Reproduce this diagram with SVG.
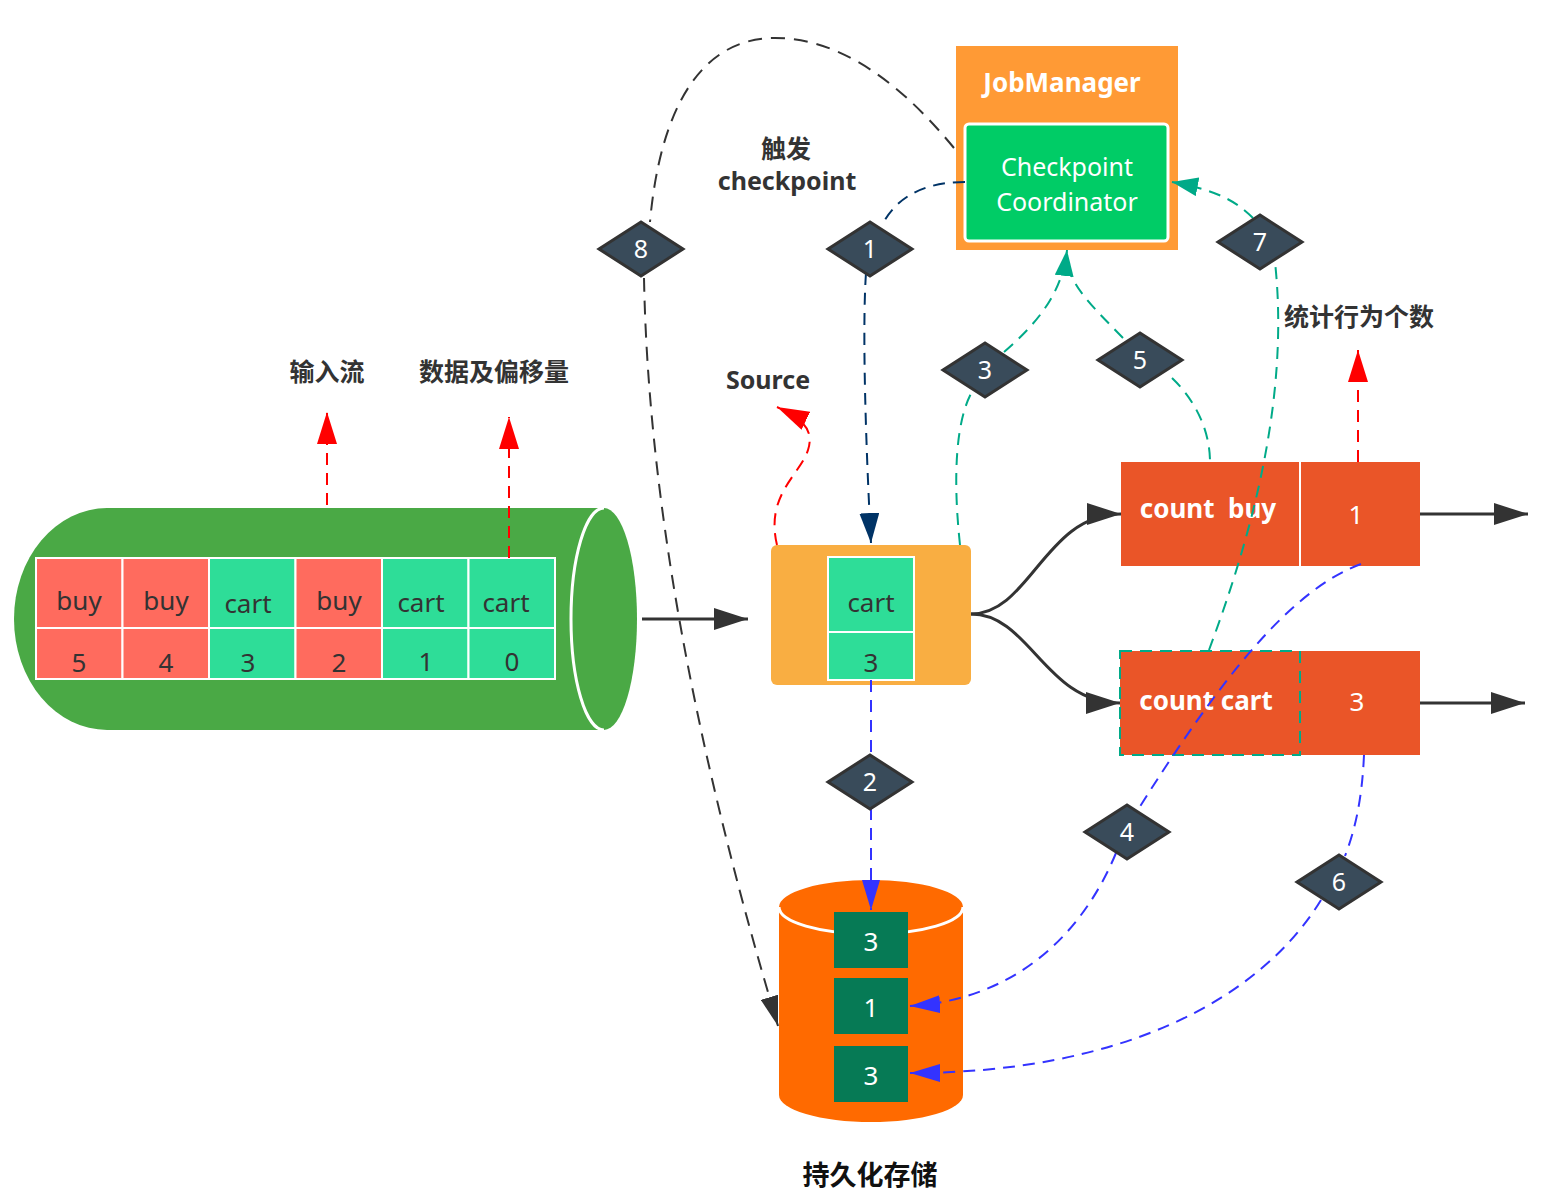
<svg xmlns="http://www.w3.org/2000/svg" width="1562" height="1202" viewBox="0 0 1562 1202">
<style>
text{font-family:"Noto Sans","Noto Sans CJK SC",sans-serif;text-anchor:middle}
.lbl{font-weight:bold;font-size:25px;fill:#333}
.cell{font-size:26px;fill:#333}
.red{fill:#FF6B5E;stroke:#fff;stroke-width:2}
.grn{fill:#2EDD98;stroke:#fff;stroke-width:2}
.dia{fill:#394B5A;stroke:#333;stroke-width:3}
.dnum{font-size:25px;fill:#fff}
.dash{fill:none;stroke-width:2;stroke-dasharray:12 8}
.solid{fill:none;stroke:#333;stroke-width:3}
.rdash{fill:none;stroke:#FF0000;stroke-width:2;stroke-dasharray:12 8}
.dbc{fill:#067A55}
</style>
<defs>
<marker id="mBlk" markerUnits="userSpaceOnUse" markerWidth="34" markerHeight="22" refX="34" refY="11" orient="auto"><path d="M0,0 L34,11 L0,22 Z" fill="#333"/></marker>
<marker id="mBlkD" markerUnits="userSpaceOnUse" markerWidth="30" markerHeight="18" refX="30" refY="9" orient="auto"><path d="M0,0 L30,9 L0,18 Z" fill="#333"/></marker>
<marker id="mNavy" markerUnits="userSpaceOnUse" markerWidth="30" markerHeight="20" refX="30" refY="10" orient="auto"><path d="M0,0 L30,10 L0,20 Z" fill="#003366"/></marker>
<marker id="mTeal" markerUnits="userSpaceOnUse" markerWidth="26" markerHeight="19" refX="26" refY="9.5" orient="auto"><path d="M0,0 L26,9.5 L0,19 Z" fill="#00AA88"/></marker>
<marker id="mBlue" markerUnits="userSpaceOnUse" markerWidth="30" markerHeight="18" refX="30" refY="9" orient="auto"><path d="M0,0 L30,9 L0,18 Z" fill="#3333FF"/></marker>
<marker id="mRed" markerUnits="userSpaceOnUse" markerWidth="32" markerHeight="20" refX="32" refY="10" orient="auto"><path d="M0,0 L32,10 L0,20 Z" fill="#FF0000"/></marker>
</defs>

<g id="input-stream">
<path d="M107,508 L604,508 A33,111 0 0 1 604,730 L107,730 A93,111 0 0 1 107,508 Z" fill="#4AA945"/>
<path d="M604,508 A33,111 0 0 0 604,730" fill="none" stroke="#fff" stroke-width="3"/>
<rect class="red" x="36" y="558" width="86.5" height="70"/>
<rect class="red" x="122.5" y="558" width="86.5" height="70"/>
<rect class="grn" x="209" y="558" width="86.5" height="70"/>
<rect class="red" x="295.5" y="558" width="86.5" height="70"/>
<rect class="grn" x="382" y="558" width="86.5" height="70"/>
<rect class="grn" x="468.5" y="558" width="86.5" height="70"/>
<rect class="red" x="36" y="628" width="86.5" height="51"/>
<rect class="red" x="122.5" y="628" width="86.5" height="51"/>
<rect class="grn" x="209" y="628" width="86.5" height="51"/>
<rect class="red" x="295.5" y="628" width="86.5" height="51"/>
<rect class="grn" x="382" y="628" width="86.5" height="51"/>
<rect class="grn" x="468.5" y="628" width="86.5" height="51"/>
<text class="cell" x="79" y="610">buy</text>
<text class="cell" x="166" y="610">buy</text>
<text class="cell" x="248" y="613">cart</text>
<text class="cell" x="339" y="610">buy</text>
<text class="cell" x="421" y="612">cart</text>
<text class="cell" x="506" y="612">cart</text>
<text class="cell" x="79" y="672">5</text>
<text class="cell" x="166" y="672">4</text>
<text class="cell" x="248" y="672">3</text>
<text class="cell" x="339" y="672">2</text>
<text class="cell" x="426" y="671">1</text>
<text class="cell" x="512" y="671">0</text>
</g>

<g id="label-input"><text class="lbl" x="327" y="381">输入流</text></g>
<g id="label-offset"><text class="lbl" x="494" y="381">数据及偏移量</text></g>
<g id="label-source"><text class="lbl" x="768" y="389">Source</text></g>
<g id="label-trigger"><text class="lbl" x="786" y="158">触发</text><text class="lbl" x="787" y="190">checkpoint</text></g>
<g id="label-count"><text class="lbl" x="1359" y="326">统计行为个数</text></g>
<g id="label-storage"><text class="lbl" x="870" y="1185" style="font-size:27px;fill:#111">持久化存储</text></g>

<g id="jobmanager">
<rect x="956" y="46" width="222" height="204" fill="#FF9A35"/>
<text x="1062" y="92" style="font-weight:bold;font-size:26px;fill:#fff">JobManager</text>
</g>
<g id="coordinator">
<rect x="965" y="124" width="203" height="117" rx="4" fill="#00CC66" stroke="#fff" stroke-width="3"/>
<text x="1067" y="176" style="font-size:25px;fill:#fff">Checkpoint</text>
<text x="1067" y="211" style="font-size:25px;fill:#fff">Coordinator</text>
</g>

<g id="source">
<rect x="771" y="545" width="200" height="140" rx="6" fill="#F9AE42"/>
<rect class="grn" x="828" y="557" width="86" height="75"/>
<rect class="grn" x="828" y="632" width="86" height="48"/>
<text class="cell" x="871" y="612">cart</text>
<text class="cell" x="871" y="672">3</text>
</g>

<g id="count-buy">
<rect x="1121" y="462" width="299" height="104" fill="#EA5528"/>
<line x1="1300" y1="462" x2="1300" y2="566" stroke="#fff" stroke-width="2"/>
<text x="1208" y="518" style="font-weight:bold;font-size:26px;fill:#fff;white-space:pre" xml:space="preserve">count  buy</text>
<text x="1356" y="524" style="font-size:26px;fill:#fff">1</text>
</g>
<g id="count-cart">
<rect x="1120" y="651" width="300" height="104" fill="#EA5528"/>
<rect x="1120" y="651" width="180" height="104" fill="none" stroke="#00AA88" stroke-width="2" stroke-dasharray="12 8"/>
<text x="1206" y="710" style="font-weight:bold;font-size:26px;fill:#fff">count cart</text>
<text x="1357" y="711" style="font-size:26px;fill:#fff">3</text>
</g>

<g id="storage">
<path d="M779,907 L779,1095 A92,27 0 0 0 963,1095 L963,907 A92,27 0 0 0 779,907 Z" fill="#FF6A00"/>
<path d="M779,907 A92,27 0 0 0 963,907" fill="none" stroke="#fff" stroke-width="3"/>
<rect class="dbc" x="834" y="912" width="74" height="56"/>
<rect class="dbc" x="834" y="978" width="74" height="56"/>
<rect class="dbc" x="834" y="1046" width="74" height="56"/>
<text x="871" y="951" style="font-size:26px;fill:#fff">3</text>
<text x="871" y="1017" style="font-size:26px;fill:#fff">1</text>
<text x="871" y="1085" style="font-size:26px;fill:#fff">3</text>
</g>

<g id="connectors">
<path class="solid" d="M642,619 L748,619" marker-end="url(#mBlk)"/>
<path class="solid" d="M971,614 C1030,614 1045,514 1121,514" marker-end="url(#mBlk)"/>
<path class="solid" d="M971,614 C1030,614 1045,703 1120,703" marker-end="url(#mBlk)"/>
<path class="solid" d="M1420,514 L1528,514" marker-end="url(#mBlk)"/>
<path class="solid" d="M1420,703 L1525,703" marker-end="url(#mBlk)"/>
<path class="rdash" d="M327,505 L327,412" marker-end="url(#mRed)"/>
<path class="rdash" d="M509,558 L509,417" marker-end="url(#mRed)"/>
<path class="rdash" d="M1358,462 L1358,350" marker-end="url(#mRed)"/>
<path class="rdash" d="M777,545 C765,495 800,475 808,450 C815,428 800,418 777,407" marker-end="url(#mRed)"/>
<path class="dash" stroke="#333" style="stroke-dasharray:14 9" d="M954,148 C890,70 830,38 775,38 C700,38 660,110 650,222"/>
<path class="dash" stroke="#333" style="stroke-dasharray:14 9" d="M644,278 Q650,600 778,1026" marker-end="url(#mBlkD)"/>
<path class="dash" stroke="#003366" d="M965,182 C920,182 895,200 882,225"/>
<path class="dash" stroke="#003366" d="M866,273 C862,330 866,450 871,543" marker-end="url(#mNavy)"/>
<path class="dash" stroke="#00AA88" d="M960,545 C953,480 955,420 973,390"/>
<path class="dash" stroke="#00AA88" d="M1004,352 C1035,325 1062,295 1067,250" marker-end="url(#mTeal)"/>
<path class="dash" stroke="#00AA88" d="M1172,378 C1195,400 1210,430 1210,462"/>
<path class="dash" stroke="#00AA88" d="M1123,338 C1098,312 1074,290 1069,268"/>
<path class="dash" stroke="#00AA88" d="M1209,650 C1250,540 1290,400 1275,262"/>
<path class="dash" stroke="#00AA88" d="M1253,218 C1235,200 1215,190 1172,182" marker-end="url(#mTeal)"/>
<path class="dash" stroke="#3333FF" d="M871,680 L871,756"/>
<path class="dash" stroke="#3333FF" d="M871,808 L871,910" marker-end="url(#mBlue)"/>
<path class="dash" stroke="#3333FF" d="M1361,564 C1290,590 1220,680 1139,808"/>
<path class="dash" stroke="#3333FF" d="M1116,853 C1080,940 1010,1000 910,1006" marker-end="url(#mBlue)"/>
<path class="dash" stroke="#3333FF" d="M1364,755 C1362,800 1355,830 1345,856"/>
<path class="dash" stroke="#3333FF" d="M1321,900 C1260,1000 1120,1073 910,1073" marker-end="url(#mBlue)"/>
</g>

<g id="d8"><path class="dia" d="M641,222 L683,249 L641,276 L599,249 Z"/><text class="dnum" x="641" y="258">8</text></g>
<g id="d1"><path class="dia" d="M870,222 L912,249 L870,276 L828,249 Z"/><text class="dnum" x="870" y="258">1</text></g>
<g id="d3"><path class="dia" d="M985,343 L1027,370 L985,397 L943,370 Z"/><text class="dnum" x="985" y="379">3</text></g>
<g id="d5"><path class="dia" d="M1140,333 L1182,360 L1140,387 L1098,360 Z"/><text class="dnum" x="1140" y="369">5</text></g>
<g id="d7"><path class="dia" d="M1260,215 L1302,242 L1260,269 L1218,242 Z"/><text class="dnum" x="1260" y="251">7</text></g>
<g id="d2"><path class="dia" d="M870,755 L912,782 L870,809 L828,782 Z"/><text class="dnum" x="870" y="791">2</text></g>
<g id="d4"><path class="dia" d="M1127,805 L1169,832 L1127,859 L1085,832 Z"/><text class="dnum" x="1127" y="841">4</text></g>
<g id="d6"><path class="dia" d="M1339,855 L1381,882 L1339,909 L1297,882 Z"/><text class="dnum" x="1339" y="891">6</text></g>
</svg>
